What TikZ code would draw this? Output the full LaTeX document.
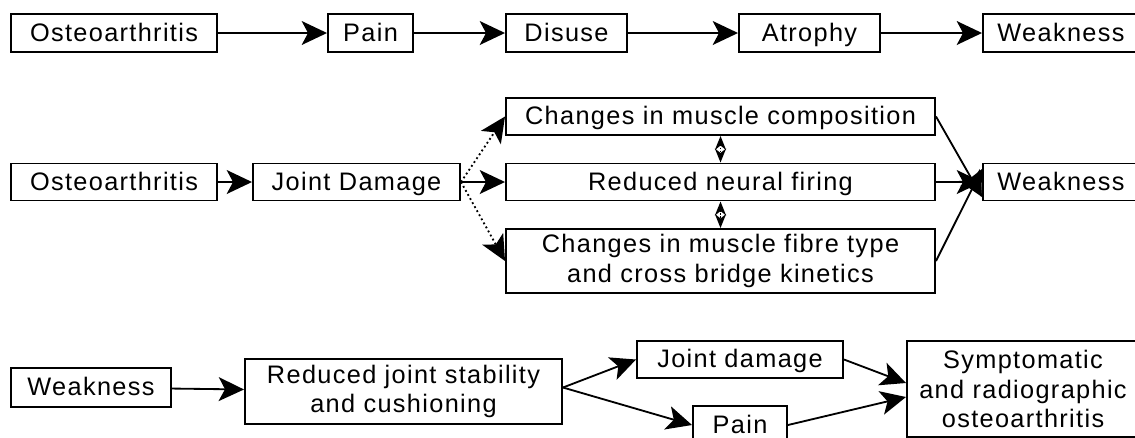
\documentclass[tikz,border=0pt]{standalone}
\usepackage{fontspec}
\setmainfont{Liberation Sans}[LetterSpace=5.3]
\usetikzlibrary{arrows.meta}
\tikzset{
  stage/.style={draw, line width=1.4pt, inner sep=0pt, align=center,
    font=\fontsize{18}{21}\selectfont},
  oneline/.style={text height=13pt, text depth=1pt},
  dims/.style 2 args={minimum width=#1*0.025cm, minimum height=#2*0.025cm},
  flow/.style={line width=1.3pt, -{Stealth[length=18pt,width=17pt,inset=4.5pt]}},
  hint/.style={line width=1.3pt, dotted, -{Stealth[length=18pt,width=17pt,inset=4.5pt]}},
  link/.style={line width=1.1pt, densely dotted,
    {Stealth[length=10pt,width=8pt]}-{Stealth[length=10pt,width=8pt]}}
}
\begin{document}
\begin{tikzpicture}[x=0.025cm,y=-0.025cm]
  \useasboundingbox (0,0) rectangle (1135,437);
  \clip (0,0) rectangle (1135,437);

  % cadena superior
  \node[stage,oneline,dims={206}{38}] (O1) at (114,33) {Osteoarthritis};
  \node[stage,oneline,dims={85}{38}] (P1) at (370.5,33) {Pain};
  \node[stage,oneline,dims={121}{38}] (D1) at (566.5,33) {Disuse};
  \node[stage,oneline,dims={141}{38}] (A1) at (809.5,33) {Atrophy};
  \node[stage,oneline,dims={156}{38}] (W1) at (1061,33) {Weakness};

  \draw[flow] (O1) -- (P1);
  \draw[flow] (P1) -- (D1);
  \draw[flow] (D1) -- (A1);
  \draw[flow] (A1) -- (W1);

  % cadena central
  \node[stage,oneline,dims={206}{37}] (O2) at (114,182) {Osteoarthritis};
  \node[stage,oneline,dims={207}{37}] (J2) at (356.5,182) {Joint Damage};
  \node[stage,oneline,dims={429}{37}] (MC) at (720.5,116.5) {Changes in muscle composition};
  \node[stage,oneline,dims={429}{37}] (NF) at (720.5,182) {Reduced neural firing};
  \node[stage,dims={429}{64}] (FT) at (720.5,261) {Changes in muscle fibre type\\and cross bridge kinetics};
  \node[stage,oneline,dims={156}{37}] (W2) at (1061,182) {Weakness};

  \draw[flow] (O2) -- (J2);
  \draw[hint] (J2.east) -- (MC.west);
  \draw[flow] (J2.east) -- (NF.west);
  \draw[hint] (J2.east) -- (FT.west);
  \draw[link] (MC.south) -- (NF.north);
  \draw[link] (NF.south) -- (FT.north);
  \draw[flow] (MC.east) -- ([yshift=-15*0.025cm]W2.west);
  \draw[flow] (NF.east) -- (W2.west);
  \draw[flow] (FT.east) -- ([yshift=13*0.025cm]W2.west);

  % cadena inferior
  \node[stage,oneline,dims={160}{39}] (W3) at (91,387.5) {Weakness};
  \node[stage,dims={317}{65}] (RJ) at (403.5,391.5) {Reduced joint stability\\and cushioning};
  \node[stage,oneline,dims={206}{37}] (J3) at (740,359.5) {Joint damage};
  \node[stage,oneline,dims={94}{38}] (P3) at (740,425) {Pain};
  \node[stage,dims={232}{96}] (SO) at (1023,389) {Symptomatic\\and radiographic\\osteoarthritis};

  \draw[flow] (W3) -- (RJ);
  \draw[flow] ([yshift=4*0.025cm]RJ.east) -- (J3.west);
  \draw[flow] ([yshift=4*0.025cm]RJ.east) -- (P3.west);
  \draw[flow] (J3.east) -- ([yshift=6*0.025cm]SO.west);
  \draw[flow] (P3.east) -- ([yshift=-8*0.025cm]SO.west);
\end{tikzpicture}
\end{document}
